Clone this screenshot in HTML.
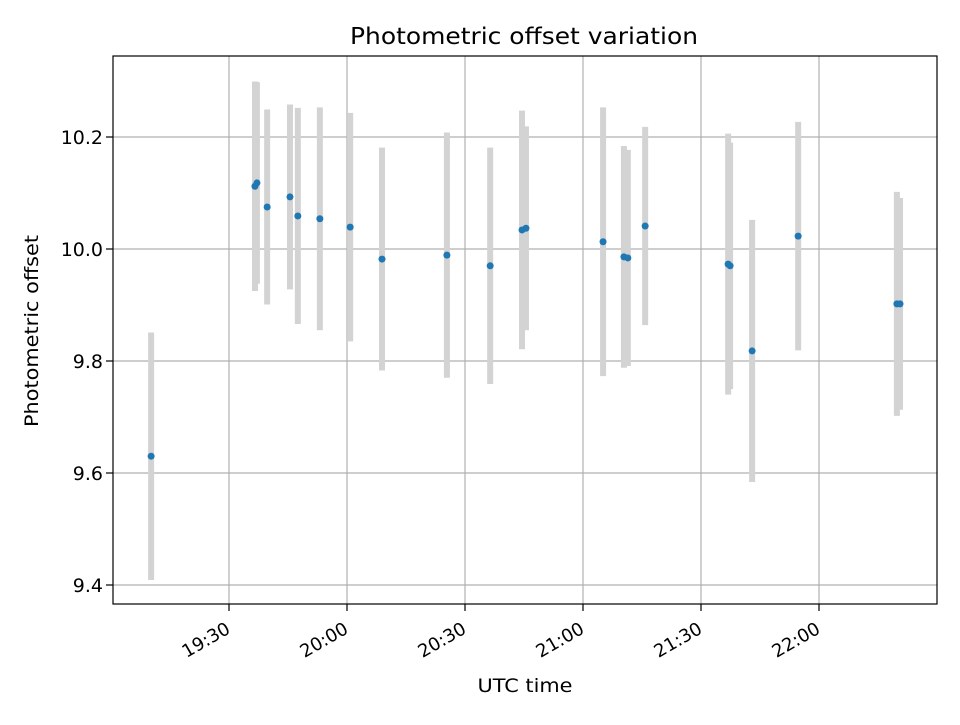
<!DOCTYPE html>
<html><head><meta charset="utf-8"><style>
body{margin:0;background:#fff}
text{font-family:"DejaVu Sans","Liberation Sans",sans-serif;fill:#000}
</style></head><body>
<svg id="chart" width="960" height="720" xmlns="http://www.w3.org/2000/svg">
<rect width="960" height="720" fill="#fff"/>
<g id="grid"></g>
<g id="bars"></g>
<g id="pts"></g>
<g id="axes"></g>
<text x="524" y="44" text-anchor="middle" font-size="23" textLength="348" lengthAdjust="spacingAndGlyphs">Photometric offset variation</text>
<text x="525" y="692" text-anchor="middle" font-size="19" textLength="95" lengthAdjust="spacingAndGlyphs">UTC time</text>
<text transform="translate(38,331) rotate(-90)" text-anchor="middle" font-size="19" textLength="192" lengthAdjust="spacingAndGlyphs">Photometric offset</text>
</svg>
<script>
// times in minutes since midnight UTC
const times=[1150.2,1176.6,1177.1,1179.7,1185.5,1187.5,1193.1,1200.8,1208.9,1225.4,1236.4,1244.5,1245.5,1265.1,1270.4,1271.4,1275.8,1296.9,1297.4,1303.0,1314.7,1339.8,1340.6];
const offsets=[9.630,10.112,10.118,10.075,10.093,10.059,10.054,10.039,9.982,9.989,9.970,10.034,10.037,10.013,9.986,9.984,10.041,9.973,9.970,9.818,10.023,9.902,9.902];
const errors=[0.221,0.187,0.180,0.174,0.165,0.193,0.199,0.204,0.199,0.219,0.211,0.213,0.182,0.240,0.198,0.193,0.177,0.233,0.220,0.234,0.204,0.200,0.189];
const xTicks=[1170,1200,1230,1260,1290,1320];
const xTickLabels=["19:30","20:00","20:30","21:00","21:30","22:00"];
const yTicks=[9.4,9.6,9.8,10.0,10.2];
const yTickLabels=["9.4","9.6","9.8","10.0","10.2"];

const L=113,R=937,T=56,B=604;
const X=t=>229+(t-1170)*(118/30);
const Y=v=>249-(v-10)*560;
const NS="http://www.w3.org/2000/svg";
function mk(tag,attrs,parent){const e=document.createElementNS(NS,tag);for(const k in attrs)e.setAttribute(k,attrs[k]);parent.appendChild(e);return e;}
const grid=document.getElementById('grid'),bars=document.getElementById('bars'),pts=document.getElementById('pts'),axes=document.getElementById('axes');

xTicks.forEach((t,i)=>{
  const x=X(t);
  const g=mk('line',{x1:x,x2:x,y1:T,y2:B,stroke:'#b0b0b0','stroke-width':1.2},grid);
  
  
  const tk=mk('line',{x1:x,x2:x,y1:B,y2:B+7,stroke:'#000','stroke-width':1.2},axes);
  
  
  const px=x-4,py=B+17;
  const tx=mk('text',{x:px,y:py,'font-size':18,'text-anchor':'end',transform:`rotate(-30 ${px} ${py})`,dy:'0.72em'},axes);
  tx.textContent=xTickLabels[i];
  
  
});
yTicks.forEach((v,i)=>{
  const y=Y(v);
  const g=mk('line',{x1:L,x2:R,y1:y,y2:y,stroke:'#b0b0b0','stroke-width':1.2},grid);
  
  
  const tk=mk('line',{x1:L-7,x2:L,y1:y,y2:y,stroke:'#000','stroke-width':1.2},axes);
  
  
  const tx=mk('text',{x:L-10,y:y+7,'font-size':19,'text-anchor':'end'},axes);
  tx.textContent=yTickLabels[i];
  
  
});
times.forEach((t,i)=>{
  const x=X(t);
  const b=mk('line',{x1:x,x2:x,y1:Y(offsets[i]+errors[i]),y2:Y(offsets[i]-errors[i]),stroke:'#d3d3d3','stroke-width':6},bars);
  
  
  const c=mk('circle',{cx:x,cy:Y(offsets[i]),r:3.5,fill:'#1f77b4'},pts);
  
  
});
const fr=mk('rect',{x:L,y:T,width:R-L,height:B-T,fill:'none',stroke:'#000','stroke-width':1.2},axes);


</script>
</body></html>
